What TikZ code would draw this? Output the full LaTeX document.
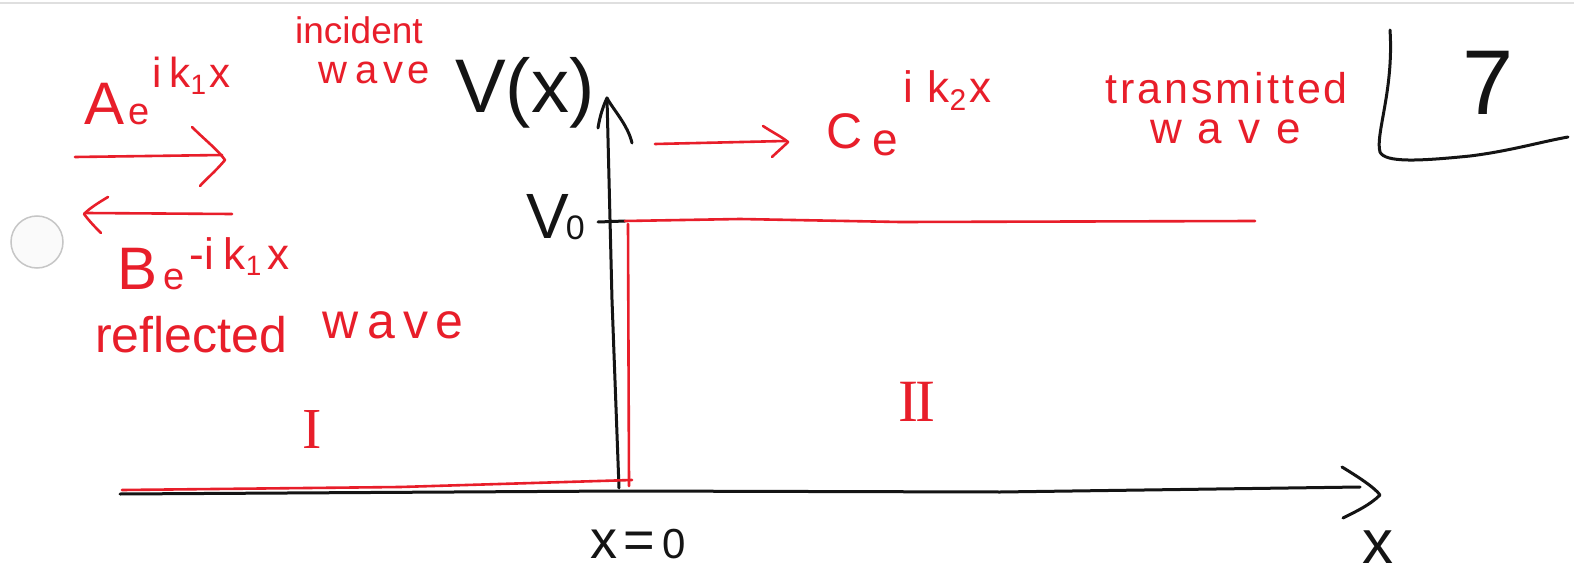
\documentclass[tikz,border=0pt]{standalone}
\usepackage{fontspec}
\setmainfont{Liberation Sans}
\newfontfamily\numeralfont{Liberation Serif}
\definecolor{penred}{RGB}{232,30,42}
\definecolor{penblack}{RGB}{20,20,20}
\newcommand\fs[1]{\fontsize{#1}{#1}\selectfont}
\begin{document}
\begin{tikzpicture}[x=1pt,y=-1pt,
  inkred/.style={line width=2.6pt,line cap=round,line join=round,draw=penred},
  inkblack/.style={line width=3pt,line cap=round,line join=round,draw=penblack},
  redtxt/.style={inner sep=0pt,anchor=base west,text=penred},
  blacktxt/.style={inner sep=0pt,anchor=base west,text=penblack},
]
\useasboundingbox (0,0) rectangle (1574,575);
\fill[white] (0,0) rectangle (1574,575);
% page edge and punch hole
\draw[gray!25,line width=2pt] (0,3) -- (1574,3);
\draw[gray!45,line width=1.5pt,fill=gray!4] (37,242) circle (26pt);

% ---- axes (black) ----
\coordinate (ytop) at (607,98);
\coordinate (ybot) at (619,488);
\coordinate (yl) at (598,128);
\coordinate (yr) at (632,143);
\draw[inkblack] (ybot) -- (612,300) -- (ytop);
\draw[inkblack] (yl) .. controls (600,115) and (604,104) .. (ytop) .. controls (612,108) and (628,125) .. (yr);
\coordinate (xleft) at (120,494);
\coordinate (xright) at (1360,487);
\coordinate (xtip) at (1380,495);
\draw[inkblack] (xleft) -- (620,491) -- (1000,492) -- (xright);
\draw[inkblack] (1342,467) .. controls (1360,478) and (1375,488) .. (xtip) .. controls (1370,505) and (1355,512) .. (1343,518);
% V0 tick
\coordinate (tickl) at (598,222);
\coordinate (tickr) at (625,221);
\draw[inkblack] (tickl) -- (tickr);

% ---- potential step (red) ----
\coordinate (s0) at (122,490);
\coordinate (s1) at (632,480);
\coordinate (s2) at (628,224);
\coordinate (s3) at (629,486);
\coordinate (s4) at (1255,221);
\draw[inkred] (s0) -- (400,487) -- (s1);
\draw[inkred] (s2) -- (s3);
\draw[inkred] (625,221) -- (740,219) -- (900,222) -- (s4);

% ---- arrows (red) ----
\coordinate (a1) at (75,157);
\coordinate (a2) at (222,155);
\draw[inkred] (a1) -- (a2);
\draw[inkred] (192,127) .. controls (205,140) and (218,150) .. (225,160) .. controls (215,172) and (205,180) .. (200,186);
\coordinate (b1) at (232,214);
\coordinate (b2) at (86,213);
\draw[inkred] (b1) -- (b2);
\draw[inkred] (108,197) .. controls (98,203) and (90,208) .. (84,214) .. controls (90,222) and (96,228) .. (101,233);
\coordinate (c1) at (655,144);
\coordinate (c2) at (785,141);
\draw[inkred] (c1) -- (c2);
\draw[inkred] (763,126) .. controls (772,132) and (782,137) .. (788,142) .. controls (782,148) and (776,153) .. (772,157);

% ---- red labels ----
\node[redtxt] (Alab) at (84,125) {\fs{60}A\kern4pt\fs{38}e\kern3pt\raisebox{38pt}{\fs{42}i\kern8pt k\raisebox{-7pt}{\fs{28}1}\kern3pt x}};
\node[redtxt] (inc) at (295,44) {\fs{37}incident};
\node[redtxt] (incw) at (318,84) {\fs{40}w\kern8pt a\kern6pt v\kern4pt e};
\node[redtxt] (Blab) at (117,289) {\fs{60}B\kern6pt\fs{38}e\kern5pt\raisebox{20pt}{\fs{44}-i\kern10pt k\raisebox{-6pt}{\fs{28}1}\kern6pt x}};
\node[redtxt] (refl) at (95,352) {\fs{50}reflected};
\node[redtxt] (reflw) at (322,338) {\fs{50}w\kern9pt a\kern8pt v\kern7pt e};
\node[redtxt] (Clab) at (826,149) {\fs{50}C\kern10pt\raisebox{-6pt}{\fs{46}e}\kern6pt\raisebox{46pt}{\fs{44}i\kern14pt k\raisebox{-8pt}{\fs{30}2}\kern3pt x}};
\node[redtxt] (trans) at (1105,104) {\fs{43}t\kern3pt r\kern3pt a\kern3pt n\kern3pt s\kern3pt m\kern3pt i\kern3pt t\kern3pt t\kern3pt e\kern3pt d};
\node[redtxt] (transw) at (1150,144) {\fs{44}w\kern16pt a\kern16pt v\kern16pt e};
\node[text=penred,inner sep=0pt] (rI) at (312,430) {\numeralfont\fs{58}I};
\node[text=penred,inner sep=0pt] (rII) at (917,402) {\numeralfont\fs{60}I\kern-3pt I};

% ---- black labels ----
\node[blacktxt] (Vx) at (455,113) {\fs{76}V(x)};
\node[blacktxt] (V0) at (526,238) {\fs{64}V\kern-3pt\raisebox{-1pt}{\fs{34}0}};
\node[blacktxt] (x0) at (590,558) {\fs{54}x\kern6pt=\kern8pt\fs{42}0};
\node[blacktxt] (xlab) at (1362,563) {\fs{62}x};
\node[blacktxt] (seven) at (1462,115) {\fs{92}7};
\draw[inkblack] (1390,30) .. controls (1394,90) and (1375,135) .. (1380,152) .. controls (1385,163) and (1420,161) .. (1470,156) .. controls (1510,151) and (1540,142) .. (1568,137);
\end{tikzpicture}
\end{document}
